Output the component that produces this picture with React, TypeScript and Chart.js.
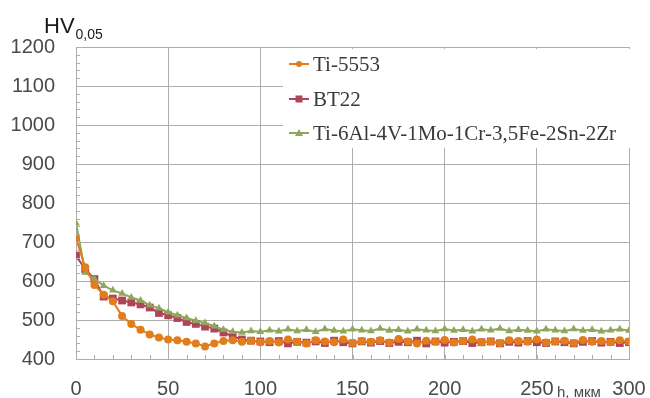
import React, { useEffect, useRef } from "react";
import { Chart, registerables } from "chart.js";

Chart.register(...registerables);

const depthsUm: number[] = Array.from({ length: 61 }, (_, i) => i * 5);

const ti5553: number[] = [
  710, 635, 590, 565, 548, 510, 490, 475, 463, 455, 450, 448, 444, 440, 432, 440, 446, 448, 444, 447, 443,
  446, 442, 450, 444, 440, 448, 445, 443, 450, 441, 446, 444, 448, 442, 451, 445, 440, 447, 444, 449,
  442, 446, 450, 443, 445, 441, 448, 446, 444, 450, 442, 445, 447, 441, 449, 444, 446, 443, 448, 445,
];

const bt22: number[] = [
  665, 630, 605, 560, 555, 550, 545, 540, 532, 518, 512, 505, 495, 490, 483, 478, 468, 458, 450, 447, 445,
  443, 446, 440, 444, 442, 445, 441, 447, 443, 440, 445, 442, 446, 441, 444, 443, 447, 440, 445, 442,
  444, 446, 441, 443, 445, 440, 444, 442, 446, 443, 441, 445, 443, 440, 444, 446, 442, 444, 441, 443,
];

const ti6246: number[] = [
  748, 622, 605, 588, 576, 568, 558, 550, 538, 530, 520, 512, 505, 498, 492, 484, 475, 470, 468, 472, 470,
  474, 471, 476, 472, 475, 470, 477, 473, 471, 476, 474, 472, 478, 473, 475, 471, 476, 474, 472, 477,
  473, 475, 471, 476, 474, 478, 472, 475, 473, 471, 476, 474, 472, 477, 473, 475, 471, 474, 476, 473,
];

const seriesNames: string[] = ["Ti-5553", "BT22", "Ti-6Al-4V-1Mo-1Cr-3,5Fe-2Sn-2Zr"];
const xTicks: number[] = [0, 50, 100, 150, 200, 250, 300];
const yTicks: number[] = [400, 500, 600, 700, 800, 900, 1000, 1100, 1200];

const ORANGE = "#E27D1C";
const RED = "#AE4559";
const GREEN = "#8FA75C";
const GRID = "#ADADAD";
const TEXT = "#4A4A4A";

const overlayPlugin = {
  id: "overlay",
  afterDraw(chart: any) {
    const { ctx, chartArea, scales } = chart;
    const xs = scales.x;
    const ys = scales.y;
    ctx.save();
    // minor ticks
    ctx.strokeStyle = GRID;
    ctx.lineWidth = 1;
    for (let v = 400; v <= 1200; v += 20) {
      const y = Math.round(ys.getPixelForValue(v)) + 0.5;
      ctx.beginPath();
      ctx.moveTo(chartArea.left, y);
      ctx.lineTo(chartArea.left + 4, y);
      ctx.stroke();
    }
    for (let v = 0; v <= 300; v += 10) {
      const x = Math.round(xs.getPixelForValue(v)) + 0.5;
      ctx.beginPath();
      ctx.moveTo(x, chartArea.bottom);
      ctx.lineTo(x, chartArea.bottom - 4);
      ctx.stroke();
    }
    // legend box
    const boxL = 283;
    const boxT = 49;
    const boxR = chartArea.right + 2;
    const boxB = 148;
    ctx.fillStyle = "#ffffff";
    ctx.fillRect(boxL, boxT, boxR - boxL, boxB - boxT);
    const colors = [ORANGE, RED, GREEN];
    const styles = ["circle", "rect", "triangle"];
    const rows = [64, 99, 133];
    ctx.font = "21px 'Liberation Serif', 'Times New Roman', serif";
    ctx.textBaseline = "middle";
    ctx.textAlign = "left";
    seriesNames.forEach((name, i) => {
      const y = rows[i];
      ctx.strokeStyle = colors[i];
      ctx.lineWidth = 2;
      ctx.beginPath();
      ctx.moveTo(289, y);
      ctx.lineTo(309, y);
      ctx.stroke();
      ctx.fillStyle = colors[i];
      ctx.beginPath();
      if (styles[i] === "circle") {
        ctx.arc(299, y, 3, 0, Math.PI * 2);
      } else if (styles[i] === "rect") {
        ctx.rect(295.5, y - 3.5, 7, 7);
      } else {
        ctx.moveTo(299, y - 4);
        ctx.lineTo(303, y + 3);
        ctx.lineTo(295, y + 3);
        ctx.closePath();
      }
      ctx.fill();
      ctx.fillStyle = "#3a3a3a";
      ctx.fillText(name, 313, y + 1);
    });
    // axis titles
    ctx.fillStyle = "#1a1a1a";
    ctx.textBaseline = "alphabetic";
    ctx.font = "22px 'Liberation Sans', Arial, sans-serif";
    ctx.fillText("HV", 44, 33);
    const hvW = ctx.measureText("HV").width;
    ctx.font = "14px 'Liberation Sans', Arial, sans-serif";
    ctx.fillText("0,05", 44 + hvW + 1, 39);
    ctx.fillStyle = TEXT;
    ctx.font = "15px 'Liberation Sans', Arial, sans-serif";
    ctx.fillText("h, мкм", 557, 397);
    ctx.restore();
  },
};

export default function App() {
  const canvasRef = useRef<HTMLCanvasElement | null>(null);

  useEffect(() => {
    const canvas = canvasRef.current;
    if (!canvas) return;
    const mk = (arr: number[]) => depthsUm.map((x, i) => ({ x, y: arr[i] }));
    const chart = new Chart(canvas, {
      type: "line",
      data: {
        datasets: [
          {
            label: seriesNames[0],
            data: mk(ti5553),
            borderColor: ORANGE,
            backgroundColor: ORANGE,
            borderWidth: 2,
            pointStyle: "circle",
            pointRadius: 4,
            pointBorderWidth: 0,
            order: 1,
          },
          {
            label: seriesNames[1],
            data: mk(bt22),
            borderColor: RED,
            backgroundColor: RED,
            borderWidth: 2,
            pointStyle: "rect",
            pointRadius: 5.5,
            pointBorderWidth: 0,
            order: 3,
          },
          {
            label: seriesNames[2],
            data: mk(ti6246),
            borderColor: GREEN,
            backgroundColor: GREEN,
            borderWidth: 2,
            pointStyle: "triangle",
            pointRadius: 4.5,
            pointBorderWidth: 0,
            order: 2,
          },
        ],
      },
      options: {
        animation: false,
        responsive: false,
        maintainAspectRatio: false,
        layout: { padding: { top: 47, right: 21, left: 0, bottom: 0 } },
        plugins: {
          legend: { display: false },
          tooltip: { enabled: false },
        },
        scales: {
          x: {
            type: "linear",
            min: 0,
            max: 300,
            afterBuildTicks: (s: any) => {
              s.ticks = xTicks.map((v) => ({ value: v }));
            },
            afterFit: (s: any) => {
              s.height = 39;
              s.paddingRight = 0;
              s.paddingLeft = 0;
            },
            grid: { color: GRID, drawTicks: false, lineWidth: 1 },
            border: { color: GRID, width: 1 },
            ticks: {
              padding: 18,
              color: TEXT,
              font: { family: "'Liberation Sans', Arial, sans-serif", size: 20 },
              maxRotation: 0,
              callback: (v: any) => String(v),
            },
          },
          y: {
            type: "linear",
            min: 400,
            max: 1200,
            afterBuildTicks: (s: any) => {
              s.ticks = yTicks.map((v) => ({ value: v }));
            },
            afterFit: (s: any) => {
              s.width = 76;
              s.paddingTop = 0;
              s.paddingBottom = 0;
            },
            grid: { color: GRID, drawTicks: false, lineWidth: 1 },
            border: { color: GRID, width: 1 },
            ticks: {
              padding: 21,
              color: TEXT,
              font: { family: "'Liberation Sans', Arial, sans-serif", size: 20 },
              callback: (v: any) => String(v),
            },
          },
        },
      },
      plugins: [overlayPlugin],
    });
    return () => chart.destroy();
  }, []);

  return (
    <div style={{ position: "fixed", left: 0, top: 0, width: 650, height: 398, background: "#fff" }}>
      <canvas ref={canvasRef} width={650} height={398} style={{ width: 650, height: 398 }} />
    </div>
  );
}
